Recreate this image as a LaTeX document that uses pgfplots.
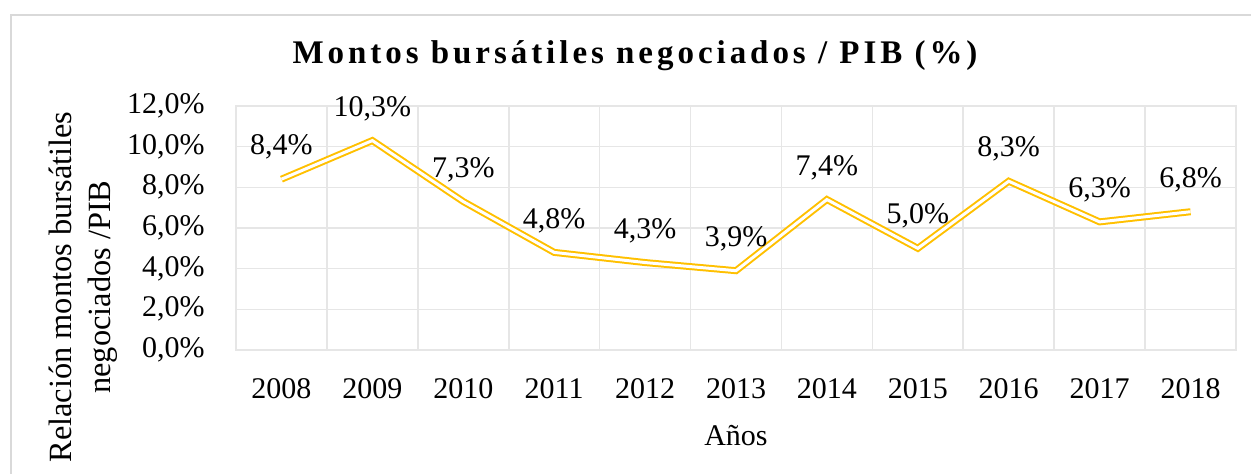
\documentclass[border=0pt]{standalone}
\usepackage{fontspec}
\setmainfont{Liberation Serif}
\usepackage{pgfplots}
\pgfplotsset{compat=1.18}
\usetikzlibrary{calc}
\definecolor{gold}{HTML}{FFC000}
\definecolor{gridc}{HTML}{E6E6E6}
\definecolor{borderc}{HTML}{D9D9D9}
\begin{document}
\begin{tikzpicture}
\begin{axis}[
  at={(0,0)}, anchor=south west,
  scale only axis, width=500pt, height=122pt,
  xmin=-0.5, xmax=10.5, ymin=0, ymax=12,
  clip=false,
  axis line style={gridc, line width=0.8pt},
  xtick={0,...,10},
  xticklabels={2008,2009,2010,2011,2012,2013,2014,2015,2016,2017,2018},
  minor xtick={-0.5,0.5,...,10.5},
  xminorgrids=true, xmajorgrids=false,
  ytick={0,2,...,12},
  yticklabels={{0,0\%},{2,0\%},{4,0\%},{6,0\%},{8,0\%},{10,0\%},{12,0\%}},
  ymajorgrids=true,
  grid style={gridc, line width=0.8pt},
  minor grid style={gridc, line width=0.8pt},
  major tick length=0pt, minor tick length=0pt,
  tick style={draw=none},
  /pgf/number format/assume math mode=true,
  /pgf/number format/.cd, fixed, fixed zerofill, precision=1, use comma, /pgfplots/.cd,
  ticklabel style={font=\fontsize{15}{18}\selectfont},
  xticklabel style={anchor=center, yshift=-19.5pt},
  yticklabel style={anchor=east, inner sep=0pt, xshift=-15.5pt},
  xlabel={Años},
  xlabel style={font=\fontsize{15}{18}\selectfont, at={(axis description cs:0.5,-0.352)}, anchor=center},
  ylabel={Relación montos bursátiles\\negociados /PIB},
  ylabel style={font=\fontsize{16.2}{19.5}\selectfont, align=center, at={(axis description cs:-0.153,0.258)}, anchor=center, rotate=0},
  title={Montos bursátiles negociados / PIB (\%)},
  title style={font=\fontsize{16.5}{19}\selectfont\bfseries\addfontfeatures{LetterSpace=12}, at={(axis description cs:0.399,1.123)}, anchor=base},
  nodes near coords={\pgfmathprintnumber{\pgfplotspointmeta}\%},
  every node near coord/.append style={font=\fontsize{15}{18}\selectfont, anchor=center, yshift=16pt, black},
]
\addplot[draw=gold, line width=1pt, double=white, double distance=1.5pt] coordinates {
(0,8.4) (1,10.3) (2,7.3) (3,4.8) (4,4.3) (5,3.9) (6,7.4) (7,5.0) (8,8.3) (9,6.3) (10,6.8)
};
\end{axis}
\draw[borderc, line width=0.75pt] ($(current axis.south west)+(-112.5pt,167.5pt)$) rectangle ($(current axis.south west)+(600pt,-100pt)$);
\pgfresetboundingbox
\path[use as bounding box] ($(current axis.south west)+(-118pt,-62pt)$) rectangle ++(625.5pt,237pt);
\end{tikzpicture}
\end{document}
